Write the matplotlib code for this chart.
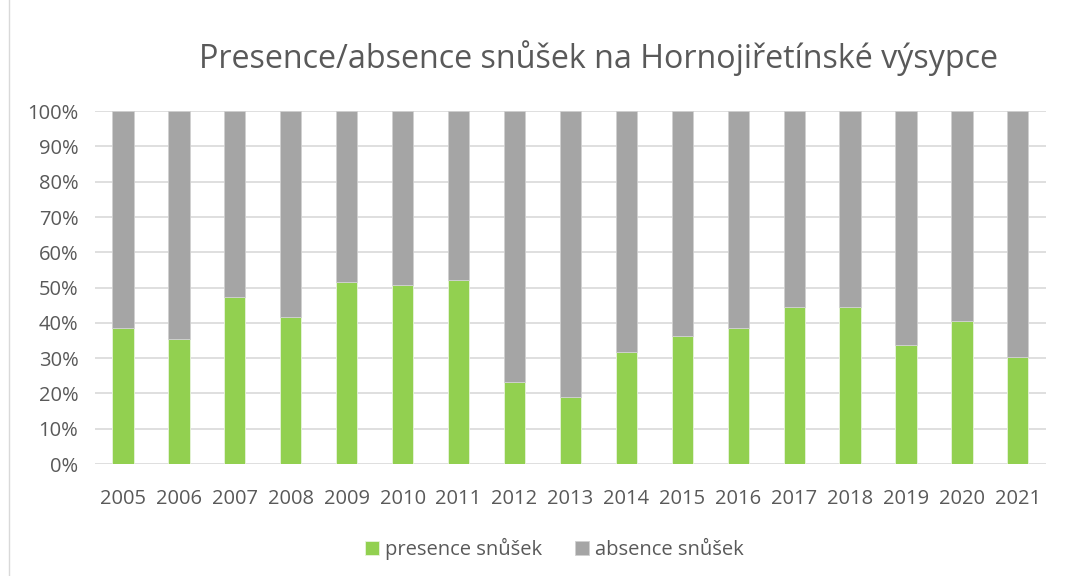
import numpy as np
import matplotlib.pyplot as plt
from matplotlib.patches import Rectangle
from matplotlib.ticker import PercentFormatter

years = [str(y) for y in range(2005, 2022)]
presence = [38.5, 35.5, 47.3, 41.6, 51.5, 50.7, 52.1, 23.3, 19.0,
            31.7, 36.3, 38.5, 44.6, 44.5, 33.6, 40.5, 30.2]
absence = [100 - p for p in presence]

green = '#92d050'
grey = '#a5a5a5'
text_col = '#595959'

plt.rcParams['font.family'] = ['Open Sans', 'DejaVu Sans']

fig = plt.figure(figsize=(10.86, 5.76), dpi=100)
ax = fig.add_axes([0.0875, 0.1944, 0.8755, 0.6126])

x = np.arange(len(years))
ax.bar(x, presence, width=0.38, color=green, edgecolor='#e8f3dc', linewidth=0.6,
       label='presence snůšek', zorder=3)
ax.bar(x, absence, width=0.38, bottom=presence, color=grey, edgecolor='#d0d0d0',
       linewidth=0.6, label='absence snůšek', zorder=3)

ax.set_xlim(-0.5, len(years) - 0.5)
ax.set_ylim(0, 100)
ax.set_yticks(range(0, 101, 10))
ax.yaxis.set_major_formatter(PercentFormatter(decimals=0))
ax.set_xticks(x)
ax.set_xticklabels(years)
ax.grid(axis='y', color='#d9d9d9', linewidth=1.2, zorder=0)
for s in ax.spines.values():
    s.set_visible(False)
ax.tick_params(length=0, labelsize=14.5, colors=text_col)
ax.tick_params(axis='y', pad=12)
ax.tick_params(axis='x', pad=18)

fig.suptitle('Presence/absence snůšek na Hornojiřetínské výsypce', x=0.551, y=0.93,
             fontsize=23.2, color=text_col)

ax.legend(loc='center', bbox_to_anchor=(0.483, -0.24), ncol=2, frameon=False,
          fontsize=14.5, labelcolor=text_col, handlelength=0.7, handleheight=0.7,
          columnspacing=1.6, handletextpad=0.3)

fig.patches.append(Rectangle((0.008, -0.01), 1.0, 1.02, transform=fig.transFigure,
                             fill=False, edgecolor='#d9d9d9', linewidth=1))

fig.savefig('out.png', dpi=100)
